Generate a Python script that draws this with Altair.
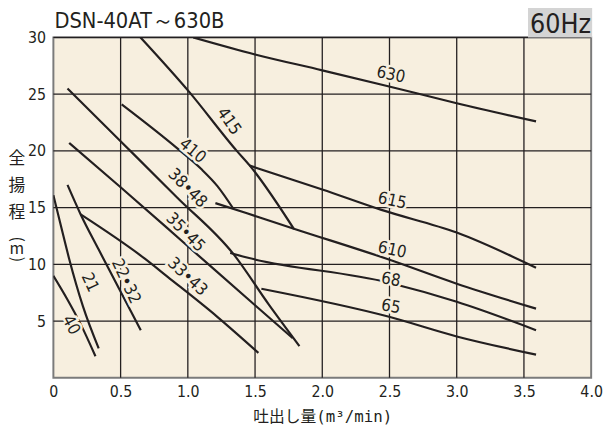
import altair as alt
import pandas as pd

# ---------------- data ----------------
x_630 = [1.04, 1.5, 2.0, 2.49, 3.0, 3.59]
y_630 = [30.0, 28.5, 27.1, 25.7, 24.2, 22.6]

x_615 = [1.46, 2.0, 2.44, 3.0, 3.59]
y_615 = [18.7, 16.6, 14.8, 12.8, 9.7]

x_610 = [1.205, 1.44, 1.80, 2.49, 3.0, 3.59]
y_610 = [15.4, 14.5, 13.1, 10.45, 8.3, 6.1]

x_68 = [1.315, 1.44, 2.49, 3.0, 3.59]
y_68 = [11.0, 10.6, 8.4, 6.7, 4.2]

x_65 = [1.547, 2.49, 3.0, 3.59]
y_65 = [7.85, 5.4, 3.65, 2.05]

x_415 = [0.648, 1.01, 1.364, 1.461, 1.79]
y_415 = [30.0, 25.2, 20.0, 18.7, 13.1]

x_410 = [0.508, 0.924, 1.10, 1.22, 1.339]
y_410 = [24.1, 20.2, 18.4, 16.9, 14.9]

x_3848 = [0.105, 0.496, 0.92, 1.34, 1.6, 1.83]
y_3848 = [25.5, 20.9, 15.9, 10.9, 6.5, 2.8]

x_3545 = [0.117, 0.5, 1.0, 1.5, 1.78]
y_3545 = [20.7, 16.8, 11.6, 6.4, 3.5]

x_3343 = [0.203, 0.68, 0.85, 1.217, 1.525]
y_3343 = [14.4, 10.5, 8.9, 5.4, 2.2]

x_2232 = [0.105, 0.203, 0.337, 0.65]
y_2232 = [17.0, 14.4, 11.3, 4.2]

x_21 = [0.0, 0.06, 0.117, 0.22, 0.337]
y_21 = [16.1, 13.2, 10.5, 6.3, 2.6]

x_40 = [0.0, 0.1, 0.2, 0.313]
y_40 = [9.0, 7.0, 4.8, 1.9]

label_text = ["630", "615", "610", "68", "65", "415", "410", "38•48", "35•45", "33•43", "22•32", "21", "40"]
label_x = [2.51, 2.52, 2.52, 2.51, 2.51, 1.305, 1.034, 0.997, 0.982, 0.997, 0.539, 0.27, 0.13]
label_y = [26.7, 15.6, 11.25, 8.64, 6.25, 22.6, 20.0, 16.7, 12.8, 8.9, 8.5, 8.4, 4.65]
label_angle = [12, 12, 12, 10, 10, 55, 40, 45, 45, 43, 65, 65, 62]

x_ticks = [0, 0.5, 1.0, 1.5, 2.0, 2.5, 3.0, 3.5, 4.0]
y_ticks = [5, 10, 15, 20, 25, 30]
x_grid = [0.5, 1.0, 1.5, 2.0, 2.5, 3.0, 3.5]
y_grid = [5, 10, 15, 20, 25, 30]

title_text = "DSN-40AT～630B"
freq_text = "60Hz"
x_title = "吐出し量(m³/min)"
y_title_kanji = ["全", "揚", "程"]

# ---------------- styling ----------------
FONT = "Liberation Sans Narrow, DejaVu Sans Condensed, Liberation Sans, sans-serif"
CJK = "Noto Sans CJK JP"
XT_FONT = "DejaVu Sans Mono, Noto Sans CJK JP"
BG = "#f7efdf"
INK = "#231f20"
W, H = 545, 345

curves = [
    ("630", x_630, y_630), ("615", x_615, y_615), ("610", x_610, y_610),
    ("68", x_68, y_68), ("65", x_65, y_65), ("415", x_415, y_415),
    ("410", x_410, y_410), ("38•48", x_3848, y_3848), ("35•45", x_3545, y_3545),
    ("33•43", x_3343, y_3343), ("22•32", x_2232, y_2232), ("21", x_21, y_21),
    ("40", x_40, y_40),
]
rows = []
for name, xs, ys in curves:
    for i, (a, b) in enumerate(zip(xs, ys)):
        rows.append({"curve": name, "q": a, "h": b, "i": i})
df = pd.DataFrame(rows)

labels = pd.DataFrame({"t": label_text, "q": label_x, "h": label_y, "angle": label_angle})

xscale = alt.Scale(domain=[0, 4], nice=False, zero=False)
yscale = alt.Scale(domain=[0, 30], nice=False, zero=False)

x_axis = alt.Axis(values=x_ticks, grid=False, ticks=False, domain=False,
                  labelExpr="datum.value == 0 ? '0' : format(datum.value, '.1f')",
                  labelFont=FONT, labelFontSize=16, labelColor=INK, labelPadding=6,
                  labelFlush=False, labelOverlap=False,
                  title=x_title, titleFont=XT_FONT, titleFontSize=16,
                  titleFontWeight="normal", titleColor=INK, titleY=39,
                  titleBaseline="middle")
y_axis = alt.Axis(values=y_ticks, grid=False, ticks=False, domain=False,
                  labelFont=FONT, labelFontSize=16, labelColor=INK, labelPadding=8,
                  labelFlush=False, labelOverlap=False, title="")

X = alt.X("q:Q", scale=xscale, axis=x_axis)
Y = alt.Y("h:Q", scale=yscale, axis=y_axis)

xgrid = alt.Chart(pd.DataFrame({"q": x_grid})).mark_rule(color=INK, strokeWidth=1.3).encode(
    x=X, y=alt.value(0), y2=alt.value(H))
# horizontal grid drawn as thin rectangles, one per grid value
hgrid = alt.Chart(pd.DataFrame({"h": y_grid})).mark_rect(color=INK, height=1.4).encode(
    y=Y, x=alt.value(0), x2=alt.value(W))

lines = alt.Chart(df).mark_line(color=INK, strokeWidth=2.2, interpolate="monotone", clip=True).encode(
    x=X, y=Y, detail="curve:N", order="i:Q",
)

halo = alt.Chart(labels).mark_text(font=FONT, fontSize=17, fill=BG, stroke=BG, strokeWidth=5,
                                   align="center", baseline="middle").encode(
    x=X, y=Y, text="t:N", angle=alt.Angle("angle:Q", scale=None),
)
txt = alt.Chart(labels).mark_text(font=FONT, fontSize=17, fill=INK,
                                  align="center", baseline="middle").encode(
    x=X, y=Y, text="t:N", angle=alt.Angle("angle:Q", scale=None),
)

box = alt.Chart(pd.DataFrame({"a": [0]})).mark_rect(color="#d4d4d4").encode(
    x=alt.value(481), x2=alt.value(546), y=alt.value(-32), y2=alt.value(0)
)
freq = alt.Chart(pd.DataFrame({"t": [freq_text]})).mark_text(
    font=FONT, fontSize=27, fill=INK, align="center", baseline="alphabetic").encode(
    text="t:N", x=alt.value(514), y=alt.value(-4))
title = alt.Chart(pd.DataFrame({"t": [title_text]})).mark_text(
    font=FONT, fontSize=22, fill=INK, align="left", baseline="alphabetic").encode(
    text="t:N", x=alt.value(1), y=alt.value(-10))

ytitle_layers = []
for k, yy in zip(y_title_kanji, [123.5, 150.5, 178.5]):
    ytitle_layers.append(alt.Chart(pd.DataFrame({"t": [k]})).mark_text(
        font=CJK, fontSize=17, fill=INK, align="center", baseline="middle").encode(
        text="t:N", x=alt.value(-37), y=alt.value(yy)))
for k, yy in zip(["(", "m", ")"], [204.5, 214.5, 225.0]):
    ang = 0 if k == "m" else 90
    ytitle_layers.append(alt.Chart(pd.DataFrame({"t": [k]})).mark_text(
        font=CJK, fontSize=16, fill=INK, align="center", baseline="middle", angle=ang).encode(
        text="t:N", x=alt.value(-37), y=alt.value(yy)))

chart = alt.layer(xgrid, hgrid, lines, halo, txt, box, freq, title, *ytitle_layers).properties(
    width=W, height=H,
    background="white",
    autosize=alt.AutoSizeParams(type="none"),
    padding={"left": 46, "top": 27, "right": 12, "bottom": 47},
).configure_view(stroke="#7b7b7b", strokeWidth=2, fill=BG)

chart.save("out.html", embed_options={"renderer": "svg", "actions": False})
